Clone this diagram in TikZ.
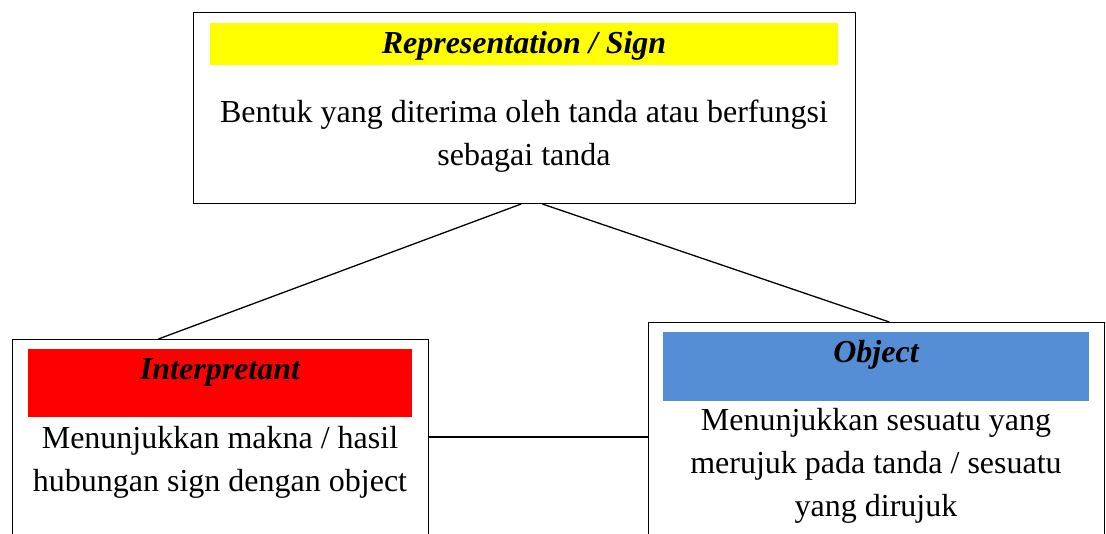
\documentclass[tikz,border=0pt]{standalone}
\usepackage{fontspec}
\setmainfont{Liberation Serif}
\usetikzlibrary{calc}
\definecolor{signyellow}{RGB}{255,255,0}
\definecolor{interpred}{RGB}{255,0,0}
\definecolor{objblue}{RGB}{85,142,213}

\begin{document}
\begin{tikzpicture}[x=1pt,y=-1pt,
  box/.style={draw=black, line width=1pt, anchor=north west, inner sep=0pt},
  band/.style={anchor=north west, inner sep=0pt},
  head/.style={font=\fontsize{32}{36}\selectfont\bfseries\itshape},
  body/.style={font=\fontsize{32}{43}\selectfont, align=center}]
% Define common parameters
\def\linkwidth{1.3pt}
\useasboundingbox (0,0) rectangle (1106,533);
\clip (0,0) rectangle (1106,533);

% Box 1: Representation / Sign
\node[box, minimum width=662pt, minimum height=191pt] (sign) at (193,12) {};
\node[band, fill=signyellow, minimum width=628pt, minimum height=42pt] (signband) at (210,23) {};
\node[head] (signhead) at (524,46) {Representation / Sign};
\node[body] (signtext) at (524,136) {Bentuk yang diterima oleh tanda atau berfungsi\\sebagai tanda};

% Box 2: Interpretant
\node[box, minimum width=416pt, minimum height=230pt] (interp) at (12,339) {};
\node[band, fill=interpred, minimum width=384pt, minimum height=68pt] (interpband) at (28,349) {};
\node[head] (interphead) at (220,372) {Interpretant};
\node[body] (interptext) at (220,462) {Menunjukkan makna / hasil\\hubungan sign dengan object};

% Box 3: Object
\node[box, minimum width=456pt, minimum height=250pt] (obj) at (648,322) {};
\node[band, fill=objblue, minimum width=426pt, minimum height=69pt] (objband) at (663,332) {};
\node[head] (objhead) at (876,355) {Object};
\node[body] (objtext) at (876,466) {Menunjukkan sesuatu yang\\merujuk pada tanda / sesuatu\\yang dirujuk};

% Links
\draw[line width=\linkwidth] ($(sign.south west)!0.495!(sign.south east)$) -- ($(interp.north west)!0.351!(interp.north east)$);
\draw[line width=\linkwidth] ($(sign.south west)!0.527!(sign.south east)$) -- ($(obj.north west)!0.528!(obj.north east)$);
\draw[line width=\linkwidth] ($(interp.north east)+(0,98)$) -- ($(obj.north west)+(0,115)$);

\end{tikzpicture}
\end{document}
